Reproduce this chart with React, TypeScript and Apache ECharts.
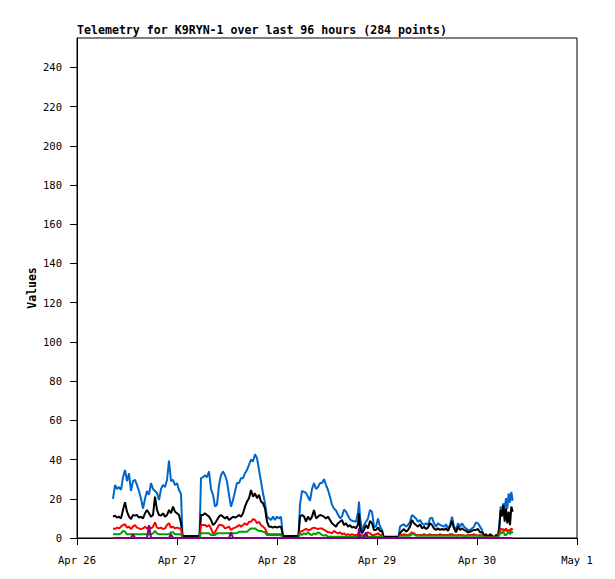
import React, { useEffect, useRef } from 'react';
import * as echarts from 'echarts';

const titleText = 'Telemetry for K9RYN-1 over last 96 hours (284 points)';
const dayLabels = ['Apr 26', 'Apr 27', 'Apr 28', 'Apr 29', 'Apr 30', 'May 1'];
const yTicks = [0, 20, 40, 60, 80, 100, 120, 140, 160, 180, 200, 220, 240];

// hours since Apr 26 00:00
const hours = [
  8.64, 9.12, 9.60, 10.08, 10.56, 11.04, 11.52, 12.00, 12.48, 12.96,
  13.44, 13.92, 14.40, 14.88, 15.36, 15.84, 16.32, 16.80, 17.28, 17.76,
  18.24, 18.72, 19.20, 19.68, 20.16, 20.64, 21.12, 21.60, 22.08, 22.56,
  23.04, 23.52, 24.00, 24.48, 24.96,
  25.32, 27.36, 29.40,
  29.76, 30.24, 30.72, 31.20, 31.68, 32.16, 32.64, 33.12, 33.60, 34.08,
  34.56, 35.04, 35.52, 36.00, 36.48, 36.96, 37.44, 37.92, 38.40, 38.88,
  39.36, 39.84, 40.32, 40.80, 41.28, 41.76, 42.24, 42.72, 43.20, 43.68,
  44.16, 44.64, 45.12, 45.60, 46.08, 46.56, 47.04, 47.52, 48.00, 48.48,
  48.96,
  49.44, 51.36, 53.16,
  53.52, 54.00, 54.48, 54.96, 55.44, 55.92, 56.40, 56.88, 57.36, 57.84,
  58.32, 58.80, 59.28, 59.76, 60.24, 60.72, 61.20, 61.68, 62.16, 62.64,
  63.12, 63.60, 64.08, 64.56, 65.04, 65.52, 66.00, 66.48, 66.96, 67.44,
  67.68, 67.92, 68.40, 68.88, 69.36, 69.84, 70.32, 70.80, 71.28, 71.76,
  72.24, 72.72, 73.20,
  73.56, 75.36, 77.16,
  77.52, 78.00, 78.48, 78.96, 79.44, 79.92, 80.40, 80.88, 81.36, 81.84,
  82.32, 82.80, 83.28, 83.76, 84.24, 84.72, 85.20, 85.68, 86.16, 86.64,
  87.12, 87.60, 88.08, 88.56, 89.04, 89.52, 90.00, 90.48, 90.96, 91.44,
  91.92, 92.40, 92.88, 93.36, 93.84, 94.32, 94.80, 95.28, 95.76, 96.24,
  96.72, 97.20, 97.68, 98.16, 98.64, 99.12, 99.60, 100.08, 100.56, 101.04,
  101.36, 101.68, 102.00, 102.32, 102.64, 102.96, 103.28, 103.60, 103.92, 104.24, 104.56,
];

const blueValues = [
  20, 27, 25, 26, 24.5, 31, 34.7, 29, 33, 24,
  29, 29.6, 27, 24, 20, 15, 20, 24, 22, 28,
  25, 24, 23, 19.4, 25, 27, 26, 29.6, 39.5, 29,
  29.6, 27, 28, 24.5, 22.5,
  0.5, 0.5, 0.5,
  30.5, 31, 32, 31, 34, 25, 22, 16, 17, 27,
  32, 34, 32, 28.8, 22, 16, 19.4, 23.7, 28, 28,
  30.5, 30.5, 33, 34.7, 37.3, 40, 39, 42.7, 40.7, 34.7,
  28.8, 22.8, 17.7, 10.9, 10, 9.2, 10.9, 9.2, 10.9, 10,
  10.9,
  0.5, 0.5, 0.5,
  16.9, 24, 23.5, 23, 21, 19, 25, 28, 25, 26,
  28, 28, 30, 27, 24.5, 21, 17, 15, 14, 12,
  10, 11, 14.5, 13.5, 11.3, 9.5, 8.8, 8.5, 8.3, 13,
  18.6, 11, 3.2, 6.6, 8.3, 10, 14.3, 13.4, 5.8, 5.8,
  10, 5.8, 4.1,
  0.5, 0.5, 0.5,
  5.8, 6.6, 7, 5.8, 6.6, 8.3, 11.7, 10.9, 10, 8.3,
  9.2, 7.5, 6.6, 7.5, 6.6, 10, 10.4, 7.5, 5.8, 7.5,
  6.6, 6.3, 5.8, 7, 4.9, 6.6, 10.9, 5.8, 4.1, 7.5,
  5.8, 7.5, 5.8, 4.9, 4.1, 4.1, 4.9, 5.8, 8, 7.5,
  5.8, 4.1, 1.2, 1.9, 0.7, 1.9, 1.2, 0.2, 1.5, 0.7,
  5.8, 16, 13.4, 17.7, 15, 20.3, 15, 22.8, 18, 23.5, 19,
];

const blackValues = [
  10.9, 11.4, 10.4, 10.9, 10, 14.3, 18.2, 13.4, 10.9, 9.7,
  11.7, 11.4, 11.7, 10.4, 10.9, 10, 12.6, 14.3, 12.6, 10.9,
  11.7, 21.1, 14.3, 11.7, 11.4, 12.6, 10.9, 11.7, 14.3, 12.6,
  16, 13.4, 12.6, 11.7, 7.5,
  1, 1, 1,
  11.7, 11.7, 12.6, 11.7, 10.9, 9.2, 6.6, 7.5, 9.2, 10.9,
  11.7, 10.9, 10, 10.9, 9.2, 10, 10.9, 10.4, 10.9, 11.7,
  10.9, 12.6, 16, 18.6, 20.3, 24.5, 21.1, 22.8, 20.3, 22,
  18.6, 17.7, 15.1, 8.3, 5.8, 5.8, 5.3, 5.8, 5.3, 5.8,
  5.8,
  1, 1, 1,
  10.9, 11.7, 11, 8.3, 10.9, 9.2, 10.9, 14.3, 10, 10.9,
  11.7, 11.4, 10.9, 10, 10.9, 9.2, 7.5, 6.6, 5.8, 7.5,
  8.3, 9.2, 6.6, 7.5, 5.8, 6.6, 5.3, 5.8, 4.9, 7,
  12.6, 4.9, 2.4, 4.1, 6.6, 4.9, 8.7, 7.5, 4.1, 4.1,
  5.3, 3.6, 3.6,
  0.7, 0.7, 0.7,
  2.4, 3.6, 4.6, 3.2, 4.1, 5.8, 9.2, 7.5, 6.6, 5.8,
  7, 4.9, 5.8, 4.6, 5.3, 7.5, 6.6, 4.9, 4.1, 4.9,
  4.1, 4.6, 4.1, 4.9, 3.6, 5.8, 8.7, 4.9, 2.9, 5.8,
  4.1, 4.9, 4.1, 3.6, 2.9, 3.2, 3.6, 4.1, 4.1, 4.6,
  2.9, 2.9, 1.2, 1.9, 0.7, 1.9, 1.2, 0.2, 1.5, 0.7,
  5.8, 14.3, 11, 16.9, 8.3, 15.1, 7.5, 13.4, 6.6, 16, 13.4,
];

const redValues = [
  4.9, 4.6, 5.3, 4.9, 5.8, 6.6, 7, 5.3, 5.8, 4.6,
  5.8, 6.6, 5.3, 4.9, 4.6, 4.9, 5.8, 4.9, 5.8, 4.9,
  5.8, 8, 5.3, 4.9, 5.3, 4.6, 4.9, 6.6, 7.5, 5.3,
  5.8, 4.9, 5.3, 4.9, 4.9,
  0, 0, 0,
  6.6, 6.6, 6.6, 5.8, 6.6, 4.9, 2.4, 2.9, 4.9, 6.6,
  6.6, 6.3, 4.9, 5.3, 5.8, 4.1, 4.9, 5.3, 5.8, 6.6,
  5.8, 6.6, 7.5, 6.6, 8.3, 8.3, 9.7, 9.2, 7.5, 8.3,
  6.6, 5.8, 4.9, 2.4, 1.9, 1.9, 1.9, 1.9, 1.9, 1.9,
  1.9,
  0, 0, 0,
  3.2, 3.4, 4.1, 4.6, 4.1, 4.1, 4.9, 5.3, 4.9, 4.6,
  4.9, 4.9, 4.1, 3.6, 2.9, 2.9, 2.4, 3.6, 2.9, 2.4,
  2.9, 1.9, 2.4, 1.5, 1.9, 1.5, 1.9, 1.5, 1.5, 1.9,
  1.9, 1.5, 1.2, 1.5, 2.4, 2.9, 2.4, 1.5, 1.5, 1.9,
  2.4, 1.5, 1.2,
  0, 0, 0,
  1.5, 1.5, 1.9, 1.5, 1.5, 1.9, 2.9, 2.4, 1.5, 1.5,
  1.5, 1.5, 1.9, 1.5, 1.5, 1.9, 1.5, 1.5, 1.5, 1.5,
  1.9, 1.5, 1.5, 1.5, 1.5, 1.9, 1.9, 1.5, 1.2, 1.5,
  1.5, 1.5, 1.2, 1.2, 1.5, 1.5, 1.5, 1.9, 1.5, 1.2,
  1.5, 1.2, 0.5, 0.5, 0.5, 0.5, 0.5, 0, 0.5, 0.5,
  2.4, 4.9, 4.1, 4.6, 3.6, 4.9, 3.2, 4.1, 3.6, 4.9, 4.1,
];

const greenValues = [
  1.9, 1.9, 1.9, 1.9, 2.4, 3.6, 3.2, 1.9, 1.9, 1.9,
  1.9, 1.9, 1.9, 1.9, 1.9, 1.9, 1.9, 1.9, 1.9, 1.9,
  2.4, 3.6, 2.4, 1.9, 1.9, 1.9, 1.9, 1.9, 1.9, 2.9,
  2.9, 1.9, 1.9, 1.9, 1.9,
  0, 0, 0,
  2.4, 2.4, 2.4, 2.4, 2.4, 1.5, 1.5, 1.5, 2.4, 2.4,
  2.4, 2.4, 2.4, 2.4, 2.4, 2.4, 2.4, 2.4, 2.4, 3.2,
  3.2, 3.2, 3.2, 3.2, 4.1, 4.9, 4.9, 4.9, 4.1, 3.6,
  3.6, 3.2, 2.9, 1.5, 1.5, 1.5, 1.5, 1.5, 1.5, 1.5,
  1.5,
  0, 0, 0,
  2.4, 1.5, 2.4, 1.9, 2.9, 1.9, 1.5, 2.4, 1.9, 2.9,
  2.4, 1.5, 1.2, 1.5, 0.7, 0.7, 0.7, 0.7, 0.7, 0.7,
  0.7, 0.7, 0.7, 0.7, 0.7, 0.7, 0.7, 0.7, 0.7, 0.7,
  0.7, 0.7, 0.7, 0.7, 0.7, 0.7, 0.7, 0.7, 0.7, 0.7,
  0.7, 0.7, 0.7,
  0, 0, 0,
  1.2, 1.2, 1.2, 1.2, 1.2, 1.2, 1.9, 1.9, 1.2, 1.2,
  1.2, 1.2, 1.2, 1.2, 1.2, 1.2, 1.2, 1.2, 1.2, 1.2,
  1.2, 1.2, 1.2, 1.2, 1.2, 1.2, 1.2, 1.2, 1.2, 1.2,
  1.2, 1.2, 1.2, 1.2, 1.2, 1.2, 1.2, 1.2, 1.2, 1.2,
  1.2, 1.2, 0.3, 0.3, 0.3, 0.3, 0.3, 0.3, 0.3, 0.3,
  1.5, 2.9, 2.4, 3.6, 1.5, 1.5, 2.4, 3.2, 1.9, 3.6, 2.4,
];

const magentaValues = [
  0, 0, 0, 0, 0, 0, 0, 0, 0, 0,
  1.9, 0, 0, 0, 0, 0, 0, 0, 6.6, 0,
  0, 0, 0, 0, 0, 0, 0, 0, 0, 1.9,
  0, 0, 0, 0, 0,
  0, 0, 0,
  0, 0, 0, 0, 0, 0, 0, 0, 0, 0,
  0, 0, 0, 0, 0, 2.9, 0, 0, 0, 0,
  0, 0, 0, 0, 0, 0, 0, 0, 0, 0,
  0, 0, 0, 0, 0, 0, 0, 0, 0, 0,
  0,
  0, 0, 0,
  0, 0, 0, 0, 0, 0, 0, 0, 0, 0,
  0, 0, 0, 0, 0, 0, 0, 0, 0, 0,
  0, 0, 0, 0, 0, 0, 0, 0, 0, 0,
  4.9, 0, 0, 0, 2.9, 0, 0, 0, 0, 0,
  0, 0, 0,
  0, 0, 0,
  0, 0, 0, 0, 0, 0, 0, 0, 0, 0,
  0, 0, 0, 0, 0, 0, 0, 0, 0, 0,
  0, 0, 0, 0, 0, 0, 0, 0, 0, 0,
  0, 0, 0, 0, 0, 0, 0, 0, 0, 0,
  0, 0, 0, 0, 0, 0, 0, 0, 0, 0,
  0, 0, 0, 0, 0, 0, 0, 0, 0, 0, 0,
];

const seriesDefs = [
  { name: 'blue', values: blueValues, color: '#0066cc' },
  { name: 'black', values: blackValues, color: '#000000' },
  { name: 'red', values: redValues, color: '#ff0000' },
  { name: 'green', values: greenValues, color: '#00a000' },
  { name: 'magenta', values: magentaValues, color: '#800080' },
];

const MONO = '"DejaVu Sans Mono", "Liberation Mono", monospace';

export default function App() {
  const ref = useRef<HTMLDivElement>(null);
  useEffect(() => {
    const chart = echarts.init(ref.current as HTMLDivElement, null, { renderer: 'svg' });
    chart.setOption({
      animation: false,
      backgroundColor: '#ffffff',
      title: {
        text: titleText,
        left: 77,
        top: 24,
        padding: 0,
        textStyle: { fontFamily: MONO, fontSize: 11.6, fontWeight: 'bold', color: '#000' },
      },
      grid: {
        left: 77,
        top: 38,
        width: 500,
        height: 500,
        show: true,
        borderColor: '#000',
        borderWidth: 1,
        backgroundColor: 'transparent',
      },
      xAxis: {
        type: 'value',
        min: 0,
        max: 120,
        interval: 24,
        splitLine: { show: false },
        axisLine: { show: true, lineStyle: { color: '#000', width: 1 } },
        axisTick: { show: true, length: 7, lineStyle: { color: '#000' } },
        axisLabel: {
          margin: 16,
          fontFamily: MONO,
          fontSize: 10.5,
          color: '#000',
          formatter: (v: number) => dayLabels[Math.round(v / 24)] ?? '',
        },
      },
      yAxis: {
        type: 'value',
        min: 0,
        max: 255,
        name: 'Values',
        nameLocation: 'middle',
        nameGap: 39,
        nameMoveOverlap: false,
        nameTextStyle: { fontFamily: MONO, fontSize: 11.5, fontWeight: 'bold', color: '#000' },
        splitLine: { show: false },
        axisLine: { show: true, lineStyle: { color: '#000', width: 1 } },
        axisTick: { show: true, length: 7, lineStyle: { color: '#000' }, customValues: yTicks },
        axisLabel: {
          margin: 15,
          fontFamily: MONO,
          fontSize: 10.5,
          color: '#000',
          customValues: yTicks,
        },
      },
      series: seriesDefs.map((s, k) => ({
        name: s.name,
        type: 'line',
        data: hours.map((h, i) => [h, s.values[i]]),
        symbol: 'none',
        showSymbol: false,
        silent: true,
        z: 2 + k,
        lineStyle: { color: s.color, width: 2 },
        itemStyle: { color: s.color },
      })),
    });
    return () => chart.dispose();
  }, []);
  return (
    <div
      ref={ref}
      style={{ position: 'fixed', left: 0, top: 0, width: 615, height: 579, background: '#fff' }}
    />
  );
}
